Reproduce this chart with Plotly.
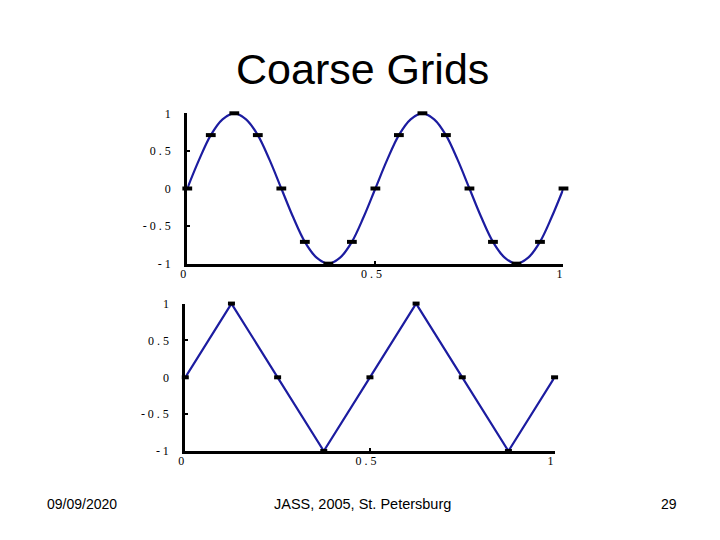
import plotly.graph_objects as go

# Fine sample of the smooth wave (step 1/32 in x)
fine_y = [0, 0.38, 0.71, 0.92, 1, 0.92, 0.71, 0.38,
          0, -0.38, -0.71, -0.92, -1, -0.92, -0.71, -0.38,
          0, 0.38, 0.71, 0.92, 1, 0.92, 0.71, 0.38,
          0, -0.38, -0.71, -0.92, -1, -0.92, -0.71, -0.38, 0]
# Fine-grid points (step 1/16)
grid16_y = [0, 0.71, 1, 0.71, 0, -0.71, -1, -0.71, 0,
            0.71, 1, 0.71, 0, -0.71, -1, -0.71, 0]
# Coarse-grid points (step 1/8)
grid8_y = [0, 1, 0, -1, 0, 1, 0, -1, 0]

y_tickvals = [1, 0.5, 0, -0.5, -1]
y_ticktext = ["1", "0 . 5", "0", "- 0 . 5", "- 1"]
x_tickvals = [0, 0.5, 1]
x_ticktext = ["0", "0 . 5", "1"]

title_text = "Coarse Grids"
footer_left = "09/09/2020"
footer_mid = "JASS, 2005, St. Petersburg"
footer_right = "29"

BLUE = "#1c1ca0"
OFF = 8  # page body margin
W, H = 720 - 2 * OFF, 540 - 2 * OFF


def px(x):
    return (x - OFF) / W


def py(y):
    return 1 - (y - OFF) / H


fig = go.Figure()

fig.add_trace(go.Scatter(y=fine_y, x0=0, dx=1/32, mode="lines", line_shape="spline",
                         line=dict(color=BLUE, width=2.2), xaxis="x", yaxis="y",
                         showlegend=False, hoverinfo="skip"))
fig.add_trace(go.Scatter(y=grid16_y, x0=0, dx=1/16, mode="markers",
                         marker=dict(symbol="line-ew", size=7, color="black",
                                     line=dict(color="black", width=4)),
                         xaxis="x", yaxis="y", showlegend=False, cliponaxis=False))
fig.add_trace(go.Scatter(y=grid8_y, x0=0, dx=1/8, mode="lines",
                         line=dict(color=BLUE, width=2.2), xaxis="x2", yaxis="y2",
                         showlegend=False, hoverinfo="skip"))
fig.add_trace(go.Scatter(y=grid8_y, x0=0, dx=1/8, mode="markers",
                         marker=dict(symbol="line-ew", size=5, color="black",
                                     line=dict(color="black", width=4)),
                         xaxis="x2", yaxis="y2", showlegend=False, cliponaxis=False))

tick_font = dict(family="Liberation Serif", size=12, color="black")
ax_common = dict(showgrid=False, zeroline=False, showline=True, linecolor="black",
                 linewidth=3, ticks="inside", ticklen=3, tickwidth=2, tickcolor="black",
                 tickfont=tick_font, fixedrange=True)
x_common = dict(ticklabelshift=-4, ticklabelstandoff=-3, **ax_common)
y_common = dict(ticklabelstandoff=11, **ax_common)

fig.update_layout(
    width=W, height=H,
    margin=dict(l=0, r=0, t=0, b=0),
    paper_bgcolor="white", plot_bgcolor="white",
    xaxis=dict(domain=[px(182), px(562)], range=[0, 1], anchor="y",
               tickvals=x_tickvals, ticktext=x_ticktext, **x_common),
    yaxis=dict(domain=[py(263.5), py(109)], range=[-1, 1], anchor="x",
               tickvals=y_tickvals, ticktext=y_ticktext, **y_common),
    xaxis2=dict(domain=[px(180), px(553)], range=[0, 1], anchor="y2",
                tickvals=x_tickvals, ticktext=x_ticktext, **x_common),
    yaxis2=dict(domain=[py(456), py(304.5)], range=[-1, 1], anchor="x2",
                tickvals=y_tickvals, ticktext=y_ticktext, **y_common),
    annotations=[
        dict(text=title_text, x=px(359), y=py(63), xref="paper", yref="paper",
             showarrow=False, font=dict(family="Liberation Sans", size=43, color="black"),
             xanchor="center", yanchor="middle"),
        dict(text=footer_left, x=px(76), y=py(510), xref="paper", yref="paper",
             showarrow=False, font=dict(family="Liberation Sans", size=14, color="black"),
             xanchor="center", yanchor="middle"),
        dict(text=footer_mid, x=px(359), y=py(510), xref="paper", yref="paper",
             showarrow=False, font=dict(family="Liberation Sans", size=14.5, color="black"),
             xanchor="center", yanchor="middle"),
        dict(text=footer_right, x=px(669), y=py(510), xref="paper", yref="paper",
             showarrow=False, font=dict(family="Liberation Sans", size=14, color="black"),
             xanchor="center", yanchor="middle"),
    ],
)

fig.write_html("out.html")
